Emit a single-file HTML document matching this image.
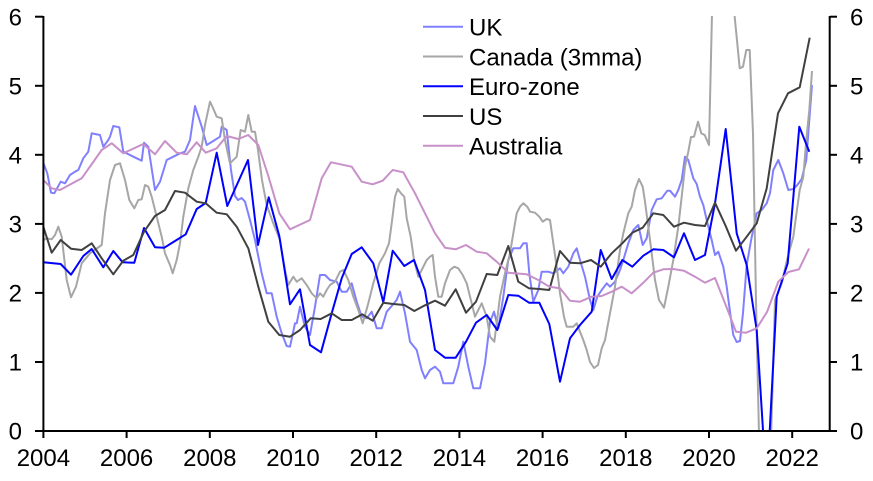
<!DOCTYPE html>
<html><head><meta charset="utf-8"><style>
html,body{margin:0;padding:0;background:#fff;}
svg{display:block;}
text{font-family:"Liberation Sans",Arial,sans-serif;font-size:24px;fill:#000;}
</style></head><body>
<svg width="873" height="481" viewBox="0 0 873 481" xmlns="http://www.w3.org/2000/svg">
<defs><clipPath id="pc"><rect x="43" y="16" width="787" height="414"/></clipPath></defs>
<g clip-path="url(#pc)" fill="none" stroke-width="2" stroke-linejoin="round">
<polyline stroke="#8080ff" points="43.3,162.7 47.3,173.3 51,192.7 54.3,193.3 60.7,181.7 65,183.3 70,175 75,171.7 78.3,170 83.3,158.3 88.3,151.7 91.7,133.3 95,134 100,135 103.3,146.7 108.3,140 110,136.7 113.3,126 119.3,127.3 123.3,151.7 133.3,156.7 141.7,160.7 144,142.7 148.3,146.7 155,190 160,181.7 166.7,160 173.3,156.7 180,153.3 185,151.7 190,140 195,106 201.7,126.7 206.7,145 213.3,141 220,136.7 221.7,126.7 226.7,130 231,170 235,196 238,200 241.7,198 245,201.7 250,220 255,240 261.7,273.3 266.7,293.3 271.7,293.3 276.7,316.7 281.7,333.3 286.7,346 290,346.7 295,323.3 296.7,323.3 300,306.7 305,326.7 310,335 315,306.7 320,275 325,275 330,280 336.7,281.7 341.7,291.7 346.7,291.7 351.7,283.3 356.7,301.7 361.7,316.7 366.7,318.3 371.7,311.7 376.7,328.3 381.7,328.3 386.7,311.7 391.7,306 396.7,300 400,291.7 405,313.3 410,341.7 416.7,350 421.7,370 425,378.3 430,370 435,366.7 440,371.7 443.3,383.3 453.3,383.3 458.3,366.7 463.3,341.7 468.3,366.7 473.3,388.3 480,388.3 485,363.3 490,321.7 494,311.7 498.3,328.3 503.3,296.7 508.3,260 513.3,248.3 520,248.3 523.3,243.3 526.7,243.3 529.3,273.3 533.3,301.7 538.3,290 541.7,271.7 548.3,271.7 553.3,273.3 560,268.3 563.3,273.3 568.3,266.7 573.3,253.3 576.7,248.3 580,260 585,276.7 590,300 593.3,310 597.3,296.7 601.7,290 606.7,283.3 610,286.7 615,281.7 620,270 623.3,260 628.3,243.3 633.3,230 638.3,225 642.7,245 646.7,238.3 651.7,210 656.7,199.3 661.7,198.3 667.3,190.7 670,190.7 675,196.7 678.3,190 681.7,180 685,156.7 688.3,160 693.3,178.3 696.7,184 700,196.7 703.3,205 706.7,220 711.7,240 715,255 718.3,251.7 723.3,266.7 726.7,286.7 730,311.7 733.3,335 736.7,342 740,341 743,313 746.7,265 751.7,237 756.7,213.3 761.7,210 766.7,203.3 770,193.3 773.3,170 778.3,160 783.3,173.3 788.3,190 793.3,189 797.3,185 801.7,179 806.3,160 809.3,120 812,85"/>
<polyline stroke="#a6a6a6" points="43.3,240 46.7,238.3 51.7,239.3 55,235 58.3,226.7 61.7,236.7 66.7,280 71,297.3 76,286.7 81.7,263.3 90,253.3 101.7,245 105,213.3 110,180 115,165 120,163.3 125,180 129.3,200 134.3,208.3 138.3,200 141.7,199.3 145,185 148.3,186.7 151.7,196.7 156.7,216.7 161.7,236.7 165,253.3 170,265 172.7,273.3 176.7,260 180,243.3 183.3,216.7 188.3,188.3 193.3,170 198.3,156.7 201.7,146.7 205,125 210,101.7 213,108 216.7,116.7 221.7,118.3 225,140 230,163.3 236.7,156.7 240.7,130 245,131.7 248.3,115 251.7,131.7 255,131.7 258,150 262,180 266.7,205 273.3,223.3 280,240 285,270 288.3,285 293.3,276.7 296.7,281.7 301.7,278.3 306.7,285 311.7,293.3 316.7,298.3 320,293.3 323.3,296.7 326.7,290 330,285 335,281.7 340,271.7 343.3,270 348.3,280 353.3,296.7 358.3,310 362.7,323.3 368.3,303.3 373.3,283.3 379.3,263.3 385,253.3 389,243.3 391.7,223.3 395,196.7 397.7,189 401,193.3 404.3,196.7 406.7,218.3 410.7,236.7 414,260 418.3,276.7 421.7,270 426.7,260 430,256.7 432.7,255 435,276.7 438.3,296.7 441.7,296.7 445,283.3 450,270 454.3,266.7 458.3,268.3 462.7,275 466.7,283.3 471.7,303.3 475,316.7 478.3,310 481.7,303.3 486.7,316.7 490,336.7 494.3,341.7 496.7,323.3 500,296.7 505,273.3 510,253.3 513.3,233.3 516.7,213.3 520,206.7 523.3,203.3 527.3,206.7 530,211.7 535,212.7 539.3,216.7 542.7,221.7 546.7,219 550,220 553.3,243.3 556.7,266.7 560,293.3 564,316.7 566.7,326.7 573.3,326.7 576.7,323.3 580,331.7 583.3,340 586.7,350 590,362 594,368 598,365 601.7,348.3 605,340 610,313.3 615,286.7 620,250 623.3,233.3 628.3,213.3 631.7,206.7 635,190 639,179 642.7,186.7 645,201.7 648.3,226.7 651.7,253.3 655,280 659,300 664,307.7 668.3,286.7 673.3,260 678.3,226.7 681.7,196.7 685,166.7 688.3,151.7 691,137 694,136.7 698,121.7 701.3,133.3 704.7,135 709,145 712.3,0 733,0 736.3,33.3 739.7,68.3 743,66.7 746.3,50 749.7,50 753,133.3 756,300 760,480 766,500 771,440 775,300 781.7,283.3 787,260 793.3,236.7 799.7,190 803.3,176.7 806.3,140 809.3,110 812,71"/>
<polyline stroke="#0000ff" points="43.3,262.3 60.7,264 71,274.7 83.3,256 91.7,249 103.3,267.3 113.3,251 122.7,262.3 134.3,262.7 144,228 155,247.3 164.3,247.7 175,241 185.7,234.3 196.7,209 205.7,203 216.7,152.7 227.3,206 237.7,183 248,160 258,245 268.7,197.3 279.3,236 290,304.3 300,289.3 310,345 321,352.3 331.7,313.3 341.7,278.3 351.7,254 361.7,247.3 373.3,263.3 383.3,302.3 392.7,250.7 404.3,266 414,260 425,290 435,350 445,357.7 455.7,357.7 466,341.7 476,322.7 486.7,315 497.3,330 508.3,295 518.3,295.7 529,302.7 539.3,302.7 549.3,324 560,381.7 570,338.3 580,325 591.7,311.7 600.7,250 611.7,279 622.3,260 632.3,266.7 643.3,255.7 653.3,249.3 663.3,250 674,257.3 684,233.3 695,260 705,255 715,203.3 725.7,129 736.7,233.3 746.7,265 756.7,330 766.7,489 776.7,296.7 787.7,263.3 799.3,126.7 809.3,151.7"/>
<polyline stroke="#404040" points="43.3,226.7 51.7,252.7 60.7,240 71,248.7 81.7,250 91.7,243.3 101.7,258.3 113.3,274.3 123.3,260.7 133.3,255 144,231.7 155,216 165,210 175,191 185,192.7 196.7,201.7 205.7,203.3 216.7,212.7 226.7,214.3 236.7,226.7 248.3,248.3 258.3,286.7 268.3,321.7 279.3,335 290,336.7 300,330 310.7,318.3 320.7,319 331.7,313.3 341.7,320 351.7,320 362.3,314.3 372.7,320.7 383.3,302.7 393.3,304 404.3,305 414.3,311 425,305.3 435,300.7 445,305.7 455.7,289.3 466,312.7 476,301.7 486.7,274 497.3,275 508.3,246 518.3,281.7 529,288.3 539.3,289 549.3,290 560,251 570,262.7 580,263.3 591,260 600.7,266.7 611.7,253.3 622.3,243.3 632.3,232.7 642.7,227.7 653.3,213.3 663.3,215 674,226.7 684,222.7 695,225 705,226 715,202.7 725.7,226 736,250.7 746.7,236.7 756.7,223.3 766.7,188.3 778,113.3 788,93.3 799.7,87.3 809.7,37.7"/>
<polyline stroke="#c890c8" points="43.3,180 51.7,188.3 60,190 81.7,178.3 101.7,150 111.7,143.3 123.3,153.3 143.3,144 155,154.3 165,141 176.7,152.7 186.7,154.3 196.7,142.3 205.7,152.7 216.7,148.3 226.7,136 238.3,139 248.3,135 258.3,145 268,175 279.3,213.3 290,229.3 310,220 321.7,178.3 331,162.3 351.7,166.7 361.7,181.7 372.7,184.3 382.7,180.7 392.7,170 403.3,172.3 415,193.3 435,233.3 445,247.7 455.7,249.3 466,245 476.7,251.7 486.7,253.3 496.7,261.7 508.3,272.7 526.7,274.3 538.3,280 549.3,286.7 560,288.3 570,300.7 580,301.7 591.7,296.7 601.7,296 611.7,291.7 621.7,286.7 631.7,293.3 642.7,283.3 653.3,272.7 663.3,269.3 673.3,269 684,270.7 695,276.7 705,282.7 715,278 725.7,305 736,331.7 746,332.7 756.7,328.3 767,312 778.3,281.7 788.3,272 799,269.3 809,248.5"/>
</g>
<g stroke="#000" stroke-width="2" fill="none">
<line x1="43.4" y1="16" x2="43.4" y2="432"/>
<line x1="829.7" y1="16" x2="829.7" y2="432"/>
<line x1="35" y1="431" x2="837" y2="431"/>
<line x1="35" y1="16.7" x2="43" y2="16.7"/>
<line x1="35" y1="85.8" x2="43" y2="85.8"/>
<line x1="35" y1="154.8" x2="43" y2="154.8"/>
<line x1="35" y1="223.9" x2="43" y2="223.9"/>
<line x1="35" y1="292.9" x2="43" y2="292.9"/>
<line x1="35" y1="362" x2="43" y2="362"/>
<line x1="830" y1="16.7" x2="837" y2="16.7"/>
<line x1="830" y1="85.8" x2="837" y2="85.8"/>
<line x1="830" y1="154.8" x2="837" y2="154.8"/>
<line x1="830" y1="223.9" x2="837" y2="223.9"/>
<line x1="830" y1="292.9" x2="837" y2="292.9"/>
<line x1="830" y1="362" x2="837" y2="362"/>
<line x1="43.4" y1="431" x2="43.4" y2="438"/>
<line x1="126.6" y1="431" x2="126.6" y2="438"/>
<line x1="209.8" y1="431" x2="209.8" y2="438"/>
<line x1="293" y1="431" x2="293" y2="438"/>
<line x1="376.2" y1="431" x2="376.2" y2="438"/>
<line x1="459.4" y1="431" x2="459.4" y2="438"/>
<line x1="542.6" y1="431" x2="542.6" y2="438"/>
<line x1="625.8" y1="431" x2="625.8" y2="438"/>
<line x1="709" y1="431" x2="709" y2="438"/>
<line x1="792.2" y1="431" x2="792.2" y2="438"/>
</g>
<g text-anchor="end">
<text x="22" y="25.3">6</text>
<text x="22" y="94.3">5</text>
<text x="22" y="163.3">4</text>
<text x="22" y="232.4">3</text>
<text x="22" y="301.4">2</text>
<text x="22" y="370.5">1</text>
<text x="22" y="439.5">0</text>
</g>
<g text-anchor="start">
<text x="850" y="25.3">6</text>
<text x="850" y="94.3">5</text>
<text x="850" y="163.3">4</text>
<text x="850" y="232.4">3</text>
<text x="850" y="301.4">2</text>
<text x="850" y="370.5">1</text>
<text x="850" y="439.5">0</text>
</g>
<g text-anchor="middle">
<text x="43.4" y="466">2004</text>
<text x="126.6" y="466">2006</text>
<text x="209.8" y="466">2008</text>
<text x="293" y="466">2010</text>
<text x="376.2" y="466">2012</text>
<text x="459.4" y="466">2014</text>
<text x="542.6" y="466">2016</text>
<text x="625.8" y="466">2018</text>
<text x="709" y="466">2020</text>
<text x="792.2" y="466">2022</text>
</g>
<g stroke-width="2">
<line x1="423" y1="26.7" x2="463" y2="26.7" stroke="#8080ff"/>
<line x1="423" y1="56.5" x2="463" y2="56.5" stroke="#a6a6a6"/>
<line x1="423" y1="86.3" x2="463" y2="86.3" stroke="#0000ff"/>
<line x1="423" y1="116" x2="463" y2="116" stroke="#404040"/>
<line x1="423" y1="145.7" x2="463" y2="145.7" stroke="#c890c8"/>
</g>
<text x="469" y="35.5">UK</text>
<text x="469" y="65.3">Canada (3mma)</text>
<text x="469" y="95">Euro-zone</text>
<text x="469" y="124.8">US</text>
<text x="469" y="154.5">Australia</text>
</svg>
</body></html>
